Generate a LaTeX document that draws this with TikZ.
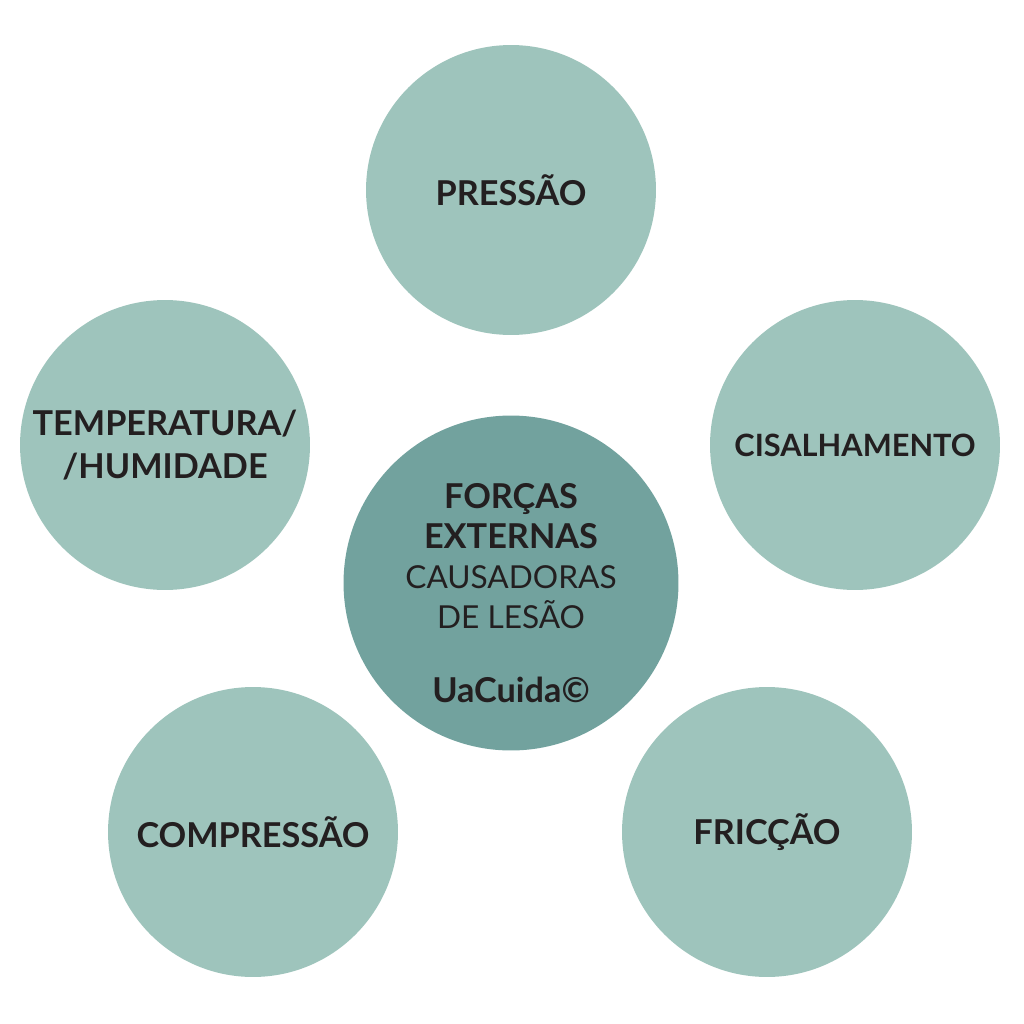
\documentclass[tikz,border=0pt]{standalone}
\usepackage{fontspec}
\setmainfont{Lato}
\usetikzlibrary{positioning}
\definecolor{UaLight}{HTML}{9EC4BC}
\definecolor{UaDark}{HTML}{72A29E}
\definecolor{UaText}{HTML}{231F20}

\begin{document}
\begin{tikzpicture}[
  x=0.02cm,y=-0.02cm,
  force/.style={circle,fill=UaLight,minimum size=5.8cm,inner sep=0pt,align=center,text=UaText,font=\fontsize{19.5}{24}\selectfont\bfseries},
  core/.style={circle,fill=UaDark,minimum size=6.7cm,inner sep=0pt},
  corelabel/.style={align=center,text=UaText,font=\fontsize{18}{22.8}\selectfont}
]
\useasboundingbox (0,0) rectangle (1024,1024);
\node[core] (core) at (511,583) {};
\node[corelabel] (coretext) at ([yshift=-0.2cm]core.center) {{\fontsize{19.5}{22.8}\selectfont\bfseries FORÇAS}\\{\fontsize{19.5}{22.8}\selectfont\bfseries EXTERNAS}\\CAUSADORAS\\DE LESÃO\\[19pt]{\fontsize{19.5}{22.8}\selectfont\bfseries UaCuida©}};
\node[force] (pressao) at (511,190) {PRESSÃO};
\node[force,font=\fontsize{17.5}{22}\selectfont\bfseries] (cisalh) at (855,445) {CISALHAMENTO};
\node[force] (temper) at (165,445) {TEMPERATURA/\\/HUMIDADE};
\node[force] (compr) at (253,832) {COMPRESSÃO};
\node[force] (friccao) at (767,832) {FRICÇÃO};
\end{tikzpicture}
\end{document}
